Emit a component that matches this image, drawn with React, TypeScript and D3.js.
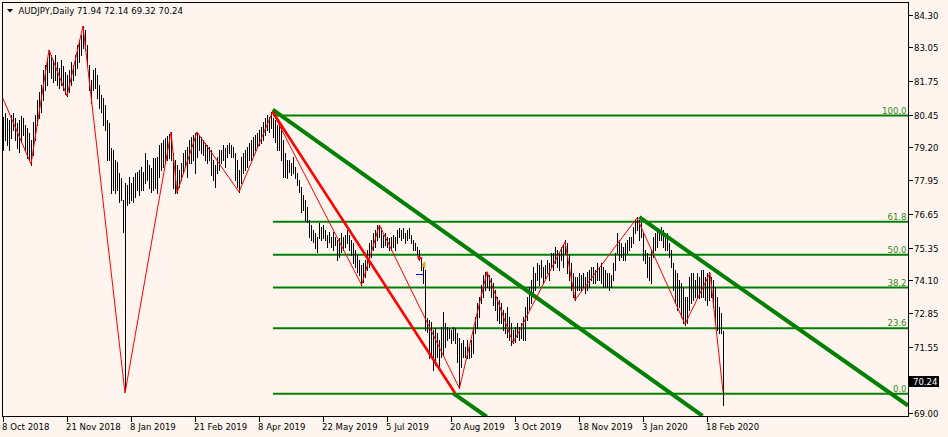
import React from "react";
import * as d3 from "d3";

// ---- data ----
const highs: number[] = [
  80.37, 80.52, 80.33, 80.25, 80.44, 80.52, 80.33, 80.14, 80.25, 80.40,
  80.33, 80.06, 79.94, 79.75, 79.48, 80.17, 80.44, 81.02, 81.33, 81.59,
  82.17, 82.36, 82.63, 82.94, 82.75, 82.55, 82.75, 82.48, 82.25, 82.55,
  82.32, 82.09, 81.98, 82.17, 82.48, 82.36, 82.75, 83.13, 83.32, 83.51,
  83.86, 83.71, 83.13, 82.36, 81.79, 82.17, 82.25, 81.98, 81.59, 81.21,
  81.10, 80.83, 80.25, 80.14, 79.17, 79.10, 78.71, 78.64, 78.22, 78.02,
  77.18, 77.83, 77.76, 78.06, 77.83, 78.06, 78.22, 78.26, 78.33, 78.45,
  78.26, 78.98, 78.71, 78.52, 78.41, 78.79, 78.79, 78.83, 79.29, 79.37,
  79.48, 79.56, 79.64, 79.71, 79.79, 78.98, 78.71, 78.52, 78.33, 78.60,
  78.98, 79.10, 79.21, 79.48, 79.60, 79.67, 79.75, 79.79, 79.67, 79.60,
  79.48, 79.37, 79.29, 79.21, 79.10, 78.71, 78.52, 78.83, 79.10, 79.10,
  79.29, 79.17, 79.29, 79.37, 79.29, 79.21, 78.98, 78.71, 78.33, 78.83,
  78.98, 79.10, 79.21, 79.37, 79.48, 79.60, 79.67, 79.75, 79.87, 79.98,
  80.17, 80.33, 80.44, 80.37, 80.56, 80.33, 80.25, 80.06, 80.17, 80.06,
  79.48, 78.98, 78.71, 78.71, 78.60, 78.83, 78.45, 78.22, 77.95, 77.68,
  77.37, 77.18, 76.91, 76.41, 76.22, 76.03, 75.91, 75.76, 76.30, 76.14,
  76.22, 76.03, 75.84, 75.95, 75.76, 75.95, 75.76, 75.64, 75.72, 75.91,
  75.76, 75.84, 76.03, 75.84, 75.64, 75.53, 75.26, 75.07, 74.88, 74.68,
  74.76, 74.88, 75.26, 75.53, 75.64, 75.91, 76.03, 76.22, 76.22, 76.11,
  75.84, 75.91, 75.76, 75.72, 75.76, 75.84, 75.76, 76.03, 76.11, 76.03,
  76.11, 75.91, 76.03, 76.11, 75.84, 75.64, 75.53, 75.38, 75.26, 74.95,
  74.68, 74.49, 72.65, 72.57, 72.50, 72.19, 72.26, 72.07, 71.81, 72.30,
  72.88, 72.46, 72.30, 72.26, 72.19, 72.30, 72.26, 72.07, 71.88, 71.69,
  71.81, 71.54, 71.81, 71.54, 71.81, 72.26, 72.69, 73.23, 73.46, 73.92,
  74.30, 74.42, 74.42, 74.30, 74.19, 73.99, 73.72, 73.46, 73.34, 73.23,
  72.96, 72.84, 73.07, 72.69, 72.46, 72.19, 72.30, 72.46, 72.30, 72.46,
  72.69, 73.07, 73.46, 73.84, 74.11, 74.61, 74.38, 74.76, 74.68, 74.88,
  74.61, 74.68, 74.88, 74.76, 75.14, 75.14, 75.38, 75.26, 75.14, 75.38,
  75.45, 75.64, 75.53, 75.07, 74.76, 74.38, 74.22, 74.22, 74.38, 74.30,
  74.38, 74.22, 74.42, 74.49, 74.61, 74.61, 74.49, 74.76, 74.61, 74.76,
  74.61, 74.49, 74.38, 74.38, 74.30, 74.76, 75.14, 75.91, 75.64, 75.53,
  75.38, 75.53, 75.64, 75.76, 75.76, 76.14, 76.41, 76.53, 76.41, 76.30,
  75.91, 75.26, 75.14, 74.99, 75.26, 75.76, 75.91, 76.03, 76.03, 76.14,
  76.03, 75.91, 75.91, 75.53, 75.26, 74.76, 74.49, 74.38, 74.11, 73.99,
  73.84, 73.46, 73.46, 74.22, 74.38, 74.38, 74.11, 74.38, 74.22, 74.49,
  74.49, 74.22, 74.38, 74.42, 74.22, 74.11, 73.84, 73.46, 73.07, 72.84,
  72.14,
];
const lows: number[] = [
  79.10, 79.48, 79.29, 79.10, 79.56, 79.87, 79.48, 79.17, 79.02, 79.41,
  79.67, 79.10, 78.79, 78.71, 78.52, 78.91, 79.48, 80.06, 80.33, 80.56,
  81.02, 81.40, 81.59, 82.09, 81.86, 81.71, 81.79, 81.59, 81.48, 81.59,
  81.40, 81.25, 81.17, 81.33, 81.59, 81.79, 81.98, 82.25, 82.48, 82.75,
  83.01, 82.94, 82.36, 81.40, 80.90, 81.40, 81.48, 81.10, 80.71, 80.56,
  80.06, 79.87, 78.71, 78.71, 77.45, 77.56, 77.45, 77.56, 77.10, 77.18,
  75.95, 69.89, 76.99, 77.06, 77.18, 77.10, 77.29, 77.56, 77.37, 77.56,
  77.56, 77.83, 77.95, 77.64, 77.49, 77.56, 77.64, 77.45, 78.06, 78.33,
  78.45, 78.60, 78.71, 78.79, 78.71, 77.64, 77.45, 77.45, 77.68, 77.95,
  78.22, 78.45, 78.06, 78.60, 78.60, 78.71, 78.22, 78.83, 79.10, 78.98,
  78.91, 78.71, 78.60, 78.71, 78.14, 77.95, 77.68, 78.22, 78.33, 78.60,
  78.71, 78.45, 78.83, 78.98, 78.83, 78.83, 77.95, 77.68, 77.49, 77.83,
  78.22, 78.33, 78.45, 78.71, 78.71, 78.91, 79.10, 79.21, 79.29, 79.37,
  79.48, 79.67, 79.87, 79.79, 79.94, 79.60, 79.41, 79.10, 79.10, 78.71,
  78.06, 78.06, 78.02, 78.26, 78.14, 78.22, 78.02, 77.76, 77.49, 76.72,
  76.80, 76.41, 76.33, 75.76, 75.64, 75.57, 75.34, 75.18, 75.72, 75.64,
  75.72, 75.64, 75.38, 75.57, 75.38, 75.26, 75.45, 74.88, 74.99, 75.18,
  75.26, 75.38, 75.53, 75.26, 75.07, 74.76, 74.61, 74.42, 74.30, 73.92,
  74.03, 74.22, 74.49, 74.61, 74.99, 75.26, 75.38, 75.64, 75.76, 75.38,
  75.38, 75.45, 75.38, 75.26, 75.26, 75.38, 75.26, 75.53, 75.76, 75.64,
  75.72, 75.53, 75.64, 75.72, 75.53, 75.26, 75.26, 75.07, 74.88, 74.49,
  73.99, 72.19, 72.11, 71.11, 71.23, 70.65, 70.85, 71.15, 70.77, 71.15,
  71.23, 71.54, 71.81, 71.88, 71.69, 71.81, 71.69, 70.96, 69.96, 70.77,
  71.15, 71.15, 71.11, 71.11, 71.15, 71.31, 72.07, 72.26, 72.69, 73.23,
  73.46, 73.72, 73.84, 73.72, 73.46, 73.15, 72.96, 72.57, 72.46, 72.46,
  72.19, 72.07, 71.92, 71.81, 71.61, 71.69, 71.73, 71.92, 71.81, 71.88,
  71.81, 71.81, 72.57, 72.96, 73.23, 73.46, 73.72, 74.11, 73.92, 74.22,
  73.99, 74.19, 74.38, 74.11, 74.61, 74.49, 74.76, 74.61, 74.49, 74.88,
  74.61, 75.14, 74.38, 74.11, 73.72, 73.46, 73.34, 73.72, 73.72, 73.72,
  73.84, 73.61, 73.72, 73.84, 74.11, 73.99, 73.99, 74.11, 74.11, 73.99,
  73.84, 73.84, 73.84, 73.72, 73.84, 74.11, 74.49, 75.14, 74.88, 74.99,
  74.88, 74.88, 75.14, 75.26, 75.38, 75.53, 75.91, 76.03, 75.64, 75.76,
  74.88, 74.76, 74.22, 74.11, 73.99, 74.99, 75.26, 75.38, 75.64, 75.64,
  75.38, 75.26, 75.26, 74.99, 74.61, 73.72, 73.23, 72.96, 73.07, 72.69,
  72.46, 72.38, 72.46, 72.96, 73.23, 73.34, 73.46, 73.46, 73.42, 73.46,
  73.46, 73.34, 73.15, 73.34, 73.46, 73.07, 72.46, 72.19, 72.07, 72.07,
  69.32,
];
const lastBar = { open: 71.94, high: 72.14, low: 69.32, close: 70.24 };

const dateLabels = [
  "8 Oct 2018", "21 Nov 2018", "8 Jan 2019", "21 Feb 2019", "8 Apr 2019",
  "22 May 2019", "5 Jul 2019", "20 Aug 2019", "3 Oct 2019", "18 Nov 2019",
  "3 Jan 2020", "18 Feb 2020",
];
const dateLabelBars = [0, 32, 64, 96, 128, 160, 192, 224, 256, 288, 320, 352];

const priceTicks = [84.3, 83.05, 81.75, 80.45, 79.2, 77.95, 76.65, 75.35, 74.1, 72.85, 71.55, 69.0];

const fibLevels = [100, 61.8, 50, 38.2, 23.6, 0];
const fibHigh = 80.42;
const fibLow = 69.74;
const fibStartBar = 135;

// zigzag [bar, price]
const zigzag: [number, number][] = [
  [-4, 81.79], [14, 78.56], [23, 82.94], [32, 81.17], [40, 83.86], [61, 69.77],
  [84, 79.79], [87, 77.45], [97, 79.79], [118, 77.49], [134.75, 80.56],
  [179.3, 73.92], [188.2, 76.22], [228.2, 69.95], [242, 74.43], [255, 71.69],
  [281, 75.57], [286, 73.34], [317, 76.49], [341, 72.42], [353.5, 74.38], [360, 69.82],
];
const redTrend: [number, number][] = [[134.75, 80.57], [226, 69.77]];
const channelA: [number, number][] = [[134.85, 80.65], [349.8, 68.89]];
const channelB: [number, number][] = [[225.15, 69.76], [241.85, 68.86]];
const channelC: [number, number][] = [[318.15, 76.52], [452.5, 69.29]];

const arrowMark: [number, number] = [208, 74.99];
const triMark: [number, number] = [210.2, 74.68];
const dashMark: [number, number, number] = [206.5, 210.2, 74.33];

// ---- layout ----
const W = 948;
const H = 437;
const L = 2.5, T = 2.5, R = 908.5, B = 416.5;
const BG = "#FFF5EE";
const GREEN = "#008000";
const FONT = "'DejaVu Sans Condensed', 'DejaVu Sans', sans-serif";

export default function App() {
  const x = d3.scaleLinear().domain([0, 360]).range([3, 723]);
  const y = d3.scaleLinear().domain([69.0, 84.3]).range([413.1, 14.5]);
  const line = d3
    .line<[number, number]>()
    .x((d) => x(d[0]))
    .y((d) => y(d[1]));

  const fibY = (lv: number) => y(fibLow + (lv / 100) * (fibHigh - fibLow));

  return (
    <div style={{ position: "fixed", left: 0, top: 0, width: W, height: H, background: BG }}>
      <svg width={W} height={H} style={{ display: "block" }} fontFamily={FONT}>
        <rect x={0} y={0} width={W} height={H} fill={BG} />
        <defs>
          <clipPath id="plot">
            <rect x={L} y={T} width={R - L} height={B - T} />
          </clipPath>
        </defs>

        <g clipPath="url(#plot)">
          {/* fib levels */}
          {fibLevels.map((lv) => (
            <line
              key={"f" + lv}
              x1={x(fibStartBar)}
              x2={R}
              y1={fibY(lv)}
              y2={fibY(lv)}
              stroke={GREEN}
              strokeWidth={2}
            />
          ))}
          {/* bars */}
          {highs.map((h, i) => {
            const xx = Math.round(x(i)) + 0.5;
            return (
              <line
                key={"b" + i}
                x1={xx}
                x2={xx}
                y1={Math.round(y(h))}
                y2={Math.round(y(lows[i])) + 1}
                stroke="#000"
                strokeWidth={1}
                shapeRendering="crispEdges"
              />
            );
          })}
          {/* channels */}
          {[channelA, channelB, channelC].map((c, k) => (
            <path key={"c" + k} d={line(c) || ""} stroke={GREEN} strokeWidth={4} fill="none" />
          ))}
          {/* red trend */}
          <path d={line(redTrend) || ""} stroke="#FF0000" strokeWidth={2.6} fill="none" />
          {/* zigzag */}
          <path d={line(zigzag) || ""} stroke="#FF0000" strokeWidth={1} fill="none" />
          {/* trade markers */}
          <path
            d={`M${x(arrowMark[0]) - 2},${y(arrowMark[1]) - 2} L${x(arrowMark[0]) + 4},${y(arrowMark[1]) + 1} L${x(arrowMark[0]) - 1},${y(arrowMark[1]) + 3} Z`}
            fill="#FF0000"
          />
          <path
            d={`M${x(triMark[0]) - 2},${y(triMark[1])} L${x(triMark[0]) + 2},${y(triMark[1]) - 4} L${x(triMark[0]) + 2},${y(triMark[1]) + 4} Z`}
            fill="#DAA520"
          />
          <line
            x1={x(dashMark[0])}
            x2={x(dashMark[1])}
            y1={Math.round(y(dashMark[2])) + 0.5}
            y2={Math.round(y(dashMark[2])) + 0.5}
            stroke="#0000FF"
            strokeWidth={1}
          />
        </g>

        {/* frame */}
        <rect x={L} y={T} width={R - L} height={B - T} fill="none" stroke="#000" strokeWidth={1} shapeRendering="crispEdges" />

        {/* fib labels */}
        {fibLevels.map((lv) => (
          <text
            key={"fl" + lv}
            x={906.5}
            y={fibY(lv) - 2}
            textAnchor="end"
            fontSize={9.5}
            fill="#2E8B22"
          >
            {lv.toFixed(1)}
          </text>
        ))}

        {/* price axis */}
        {priceTicks.map((p) => {
          const yy = Math.round(y(p)) + 0.5;
          return (
            <g key={"p" + p}>
              <line x1={R} x2={R + 4} y1={yy} y2={yy} stroke="#000" shapeRendering="crispEdges" />
              <text x={914} y={yy + 3.5} fontSize={9.5} fill="#000">
                {p.toFixed(2)}
              </text>
            </g>
          );
        })}
        {/* current price label */}
        <rect x={909} y={Math.round(y(lastBar.close)) - 5} width={30} height={11} fill="#000" />
        <text x={913} y={Math.round(y(lastBar.close)) + 4} fontSize={9.5} fill="#fff">
          {lastBar.close.toFixed(2)}
        </text>

        {/* date axis */}
        {dateLabelBars.map((bi, k) => {
          const xx = Math.round(x(bi)) + 0.5;
          return (
            <g key={"d" + k}>
              <line x1={xx} x2={xx} y1={B} y2={B + 5} stroke="#000" shapeRendering="crispEdges" />
              <text x={xx - 1.5} y={430} fontSize={9.5} fill="#000">
                {dateLabels[k]}
              </text>
            </g>
          );
        })}

        {/* title */}
        <path d="M7,9 L13,9 L10,12.5 Z" fill="#000" />
        <text x={18.5} y={14} fontSize={9.5} fill="#000">
          {`AUDJPY,Daily  ${lastBar.open.toFixed(2)} ${lastBar.high.toFixed(2)} ${lastBar.low.toFixed(2)} ${lastBar.close.toFixed(2)}`}
        </text>
      </svg>
    </div>
  );
}
